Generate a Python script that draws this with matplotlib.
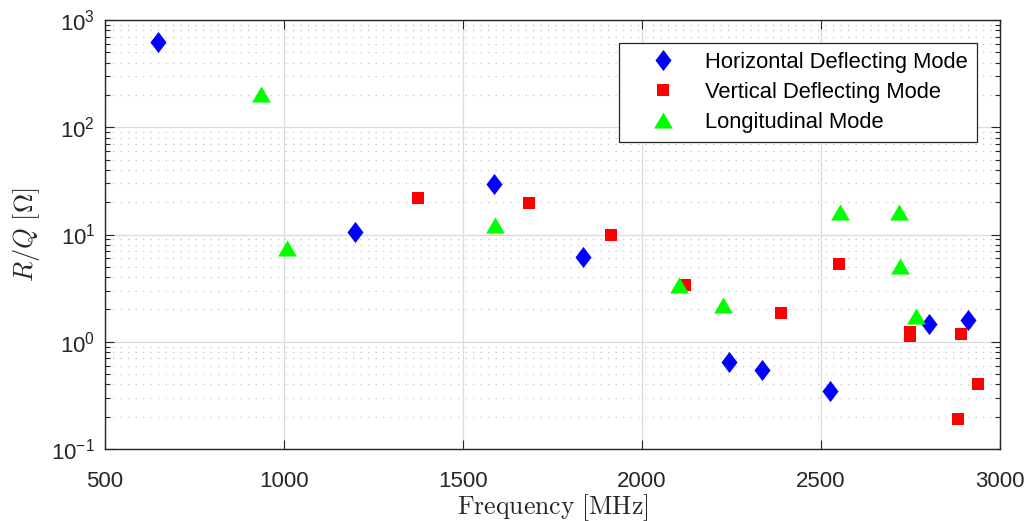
import numpy as np
import matplotlib
matplotlib.use("Agg")
import matplotlib.pyplot as plt
from matplotlib.ticker import LogLocator, FixedLocator, NullFormatter

plt.rcParams['font.family'] = ['Liberation Sans', 'DejaVu Sans']
plt.rcParams['mathtext.fontset'] = 'cm'
plt.rcParams['axes.unicode_minus'] = False

# Data
h_freq = [648, 1198, 1587, 1835, 2243, 2335, 2525, 2801, 2910]
h_rq = [628, 10.6, 29.5, 6.18, 0.65, 0.55, 0.344, 1.46, 1.61]

v_freq = [1373, 1683, 1914, 2120, 2388, 2551, 2748, 2748, 2890, 2939, 2883]
v_rq = [21.9, 19.8, 9.97, 3.35, 1.86, 5.32, 1.23, 1.14, 1.19, 0.403, 0.191]

l_freq = [935, 1007, 1589, 2103, 2226, 2554, 2717, 2722, 2765]
l_rq = [203, 7.45, 12.3, 3.39, 2.21, 16.3, 16.3, 5.09, 1.75]

x_ticks = [500, 1000, 1500, 2000, 2500, 3000]

fig = plt.figure(figsize=(10.31, 5.21), dpi=100)
ax = fig.add_axes([105/1031, 1 - 449/521, 895/1031, 429/521])

diamond = [(0, 1), (0.76, 0), (0, -1), (-0.76, 0), (0, 1)]
triangle = [(0, 0.86), (1, -0.86), (-1, -0.86), (0, 0.86)]

ax.plot(h_freq, h_rq, linestyle='none', marker=diamond, markersize=15.2,
        color='#0000ff', markeredgewidth=0, label='Horizontal Deflecting Mode', zorder=3)
ax.plot(v_freq, v_rq, linestyle='none', marker='s', markersize=9.2,
        color='#ff0000', markeredgewidth=0, label='Vertical Deflecting Mode', zorder=3)
ax.plot(l_freq, l_rq, linestyle='none', marker=triangle, markersize=13.5,
        color='#00ff00', markeredgewidth=0, label='Longitudinal Mode', zorder=3)

ax.set_yscale('log')
ax.set_xlim(500, 3000)
ax.set_ylim(0.1, 1000)
ax.xaxis.set_major_locator(FixedLocator(x_ticks))
ax.yaxis.set_major_locator(LogLocator(base=10, numticks=10))
ax.yaxis.set_minor_locator(LogLocator(base=10, subs=np.arange(2, 10), numticks=10))
ax.yaxis.set_minor_formatter(NullFormatter())

axcol = '#262626'
for s in ax.spines.values():
    s.set_color(axcol)
    s.set_linewidth(1.0)
ax.tick_params(which='both', direction='in', top=True, right=True, colors=axcol,
               labelsize=16, width=0.8)
ax.tick_params(which='major', length=6.5)
ax.tick_params(which='minor', length=3.6)
ax.tick_params(axis='x', which='major', pad=15.5)
ax.tick_params(axis='y', which='major', pad=7)
ax.tick_params(axis='x', which='minor', top=False, bottom=False)

ax.grid(True, which='major', axis='both', color='#dcdcdc', linewidth=0.9, linestyle='-')
ax.grid(True, which='minor', axis='y', color='#c4c4c4', linewidth=0.9, linestyle=(0, (1, 5)))
ax.set_axisbelow(True)

ax.set_xlabel(r'$\mathrm{Frequency\ [MHz]}$', fontsize=18.5, color=axcol, va='center')
ax.set_ylabel(r'$R/Q\ [\Omega]$', fontsize=19, color=axcol, va='center')
ax.xaxis.set_label_coords(552.5 / 1031, 1 - 507.5 / 521, transform=fig.transFigure)
ax.yaxis.set_label_coords(27 / 1031, 1 - 235 / 521, transform=fig.transFigure)

leg = ax.legend(loc='upper right', bbox_to_anchor=(977/1031, 1 - 43/521),
                bbox_transform=fig.transFigure, fontsize=15.8, frameon=True,
                fancybox=False, edgecolor=axcol, framealpha=1,
                borderpad=0.40, labelspacing=0.41, handlelength=3.2,
                handletextpad=0.35, borderaxespad=0)
leg.get_frame().set_linewidth(0.9)

fig.savefig('out.png', dpi=100)
